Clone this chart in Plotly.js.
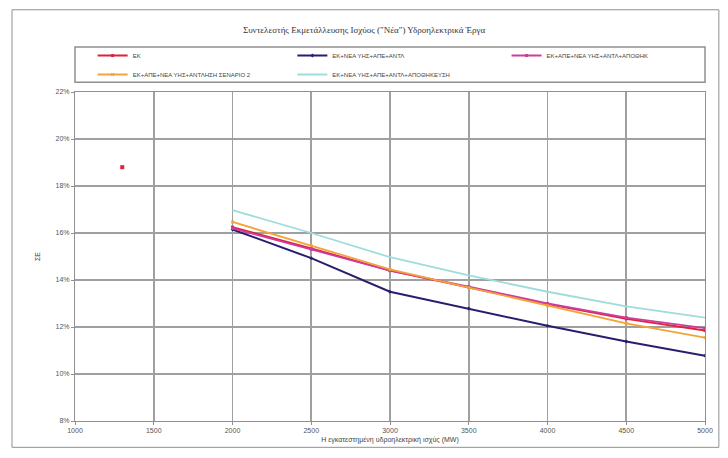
<!DOCTYPE html>
<html>
<head>
<meta charset="utf-8">
<script src="https://cdn.plot.ly/plotly-3.0.1.min.js"></script>
<style>html,body{margin:0;padding:0;background:#fff;}#chart{width:728px;height:458px;}</style>
</head>
<body>
<div id="chart"></div>
<script>
// Data (values in %)
const xValues = [2000, 2500, 3000, 3500, 4000, 4500, 5000];
const ekPointX = [1300];
const ekPointY = [18.8];
const ekY      = [16.25, 15.35, 14.40, 13.70, 12.97, 12.35, 11.85];
const navyY    = [16.15, 14.93, 13.50, 12.79, 12.05, 11.38, 10.78];
const magentaY = [16.20, 15.30, 14.40, 13.72, 13.00, 12.40, 11.95];
const orangeY  = [16.47, 15.45, 14.45, 13.68, 12.90, 12.15, 11.55];
const cyanY    = [16.97, 16.00, 14.97, 14.20, 13.50, 12.88, 12.40];
const seriesNames = [
  'ΕΚ',
  'ΕΚ+ΝΕΑ ΥΗΣ+ΑΠΕ+ΑΝΤΛ',
  'ΕΚ+ΑΠΕ+ΝΕΑ ΥΗΣ+ΑΝΤΛ+ΑΠΟΘΗΚ',
  'ΕΚ+ΑΠΕ+ΝΕΑ ΥΗΣ+ΑΝΤΛΗΣΗ ΣΕΝΑΡΙΟ 2',
  'ΕΚ+ΝΕΑ ΥΗΣ+ΑΠΕ+ΑΝΤΛ+ΑΠΟΘΗΚΕΥΣΗ'
];
const yTicks = [8, 10, 12, 14, 16, 18, 20, 22];
const xTicks = [1000, 1500, 2000, 2500, 3000, 3500, 4000, 4500, 5000];

const colors = ['#e0203c', '#2b1d6e', '#cc3d9e', '#f2a33a', '#9fdcdc'];
const ys = [ekY, navyY, magentaY, orangeY, cyanY];
const markerSymbols = ['square', 'diamond', 'square', 'x', 'circle'];
const legendIds = ['legend', 'legend2', 'legend3', 'legend', 'legend2'];

const traces = ys.map((y, i) => ({
  type: 'scatter', mode: i === 4 ? 'lines' : 'lines+markers',
  x: xValues, y: y, name: seriesNames[i],
  legend: legendIds[i], legendgroup: 'g' + i,
  line: {color: colors[i], width: i === 1 ? 2 : 1.8},
  marker: {color: colors[i], size: 3, symbol: markerSymbols[i]}
}));
traces.unshift({
  type: 'scatter', mode: 'markers', x: ekPointX, y: ekPointY,
  name: seriesNames[0], legendgroup: 'g0', showlegend: false,
  marker: {color: colors[0], size: 4, symbol: 'square'}
});

const font = 'Liberation Sans, Arial, sans-serif';
const legendBase = {orientation: 'v', y: 1.155, yanchor: 'top', xanchor: 'left', itemwidth: 30,
  font: {size: 6, color: '#444'}, bgcolor: 'rgba(0,0,0,0)', tracegroupgap: 0};
const layout = {
  width: 728, height: 458,
  margin: {l: 75, r: 23, t: 92, b: 37},
  paper_bgcolor: '#ffffff', plot_bgcolor: '#ffffff',
  font: {family: font, size: 7, color: '#444'},
  title: {text: 'Συντελεστής Εκμετάλλευσης Ισχύος ("Νέα") Υδροηλεκτρικά Έργα',
          font: {family: 'Liberation Serif, Times New Roman, serif', size: 9, color: '#333'},
          x: 0.5, xanchor: 'center', y: 0.935, yanchor: 'middle'},
  xaxis: {range: [1000, 5000], tickvals: xTicks, ticktext: xTicks.map(String),
          showgrid: true, gridcolor: '#a0a0a0', gridwidth: 1.6,
          showline: true, linecolor: '#909090', linewidth: 1, mirror: true,
          ticks: 'outside', ticklen: 3, tickcolor: '#909090',
          zeroline: false, tickfont: {size: 7, color: '#555'},
          title: {text: 'Η εγκατεστημένη υδροηλεκτρική ισχύς (MW)', font: {size: 7, color: '#444'}, standoff: 3}},
  yaxis: {range: [8, 22], tickvals: yTicks, ticktext: yTicks.map(v => v + '%'),
          showgrid: true, gridcolor: '#a0a0a0', gridwidth: 1.6,
          showline: true, linecolor: '#909090', linewidth: 1, mirror: true,
          ticks: 'outside', ticklen: 3, tickcolor: '#909090',
          zeroline: false, tickfont: {size: 7, color: '#555'},
          title: {text: 'ΣΕ', font: {size: 7, color: '#444'}, standoff: 14}},
  legend: Object.assign({}, legendBase, {x: 0.028}),
  legend2: Object.assign({}, legendBase, {x: 0.345}),
  legend3: Object.assign({}, legendBase, {x: 0.685}),
  shapes: [
    {type: 'rect', xref: 'paper', yref: 'paper', x0: 0.0, x1: 1.0, y0: 1.03, y1: 1.137,
     line: {color: '#909090', width: 1.5}},
    {type: 'rect', xref: 'paper', yref: 'paper', x0: -0.1, x1: 1.022, y0: -0.08, y1: 1.25,
     line: {color: '#909090', width: 1}}
  ],
  showlegend: true
};

Plotly.newPlot('chart', traces, layout, {displayModeBar: false, staticPlot: true});
</script>
</body>
</html>
